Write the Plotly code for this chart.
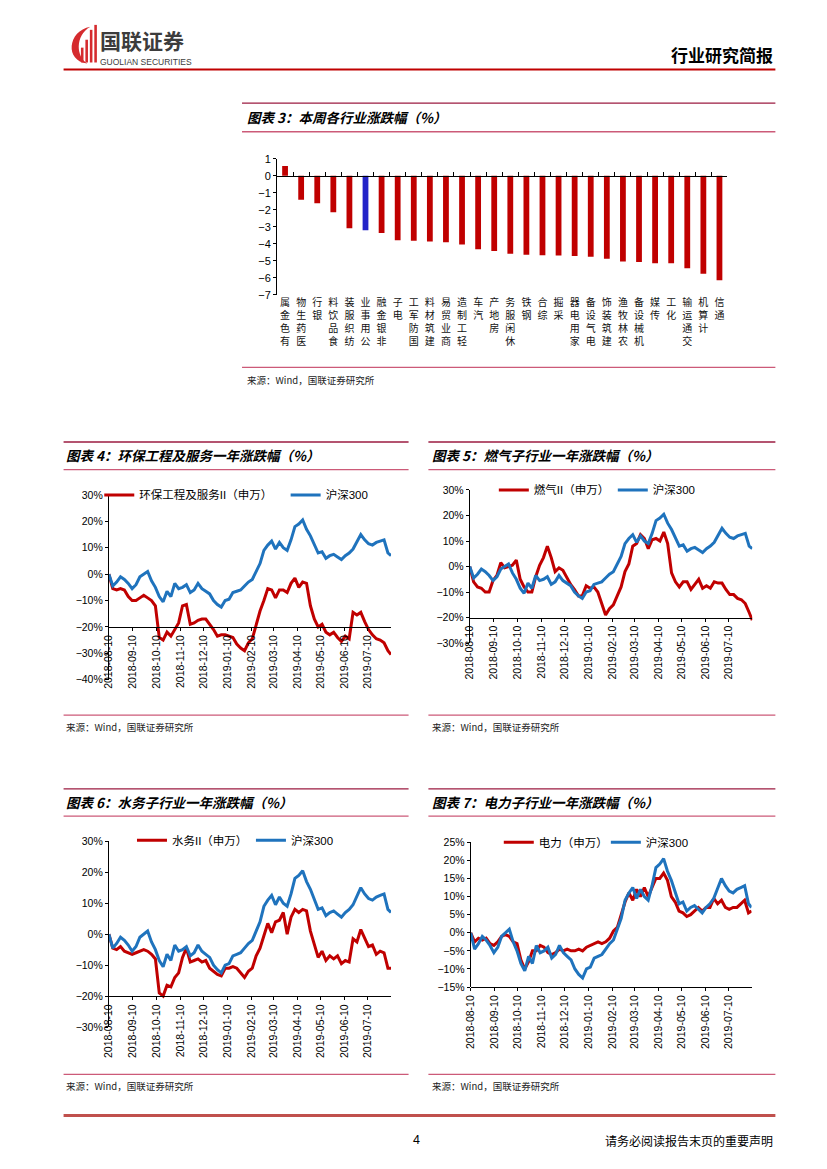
import plotly.graph_objects as go

# The page body has an 8px margin, so the figure is drawn 8px smaller on each side
# and every reference-page pixel is mapped through X()/Y() with that offset.
PAGE_W, PAGE_H = 827, 1169
OFF = 8
W, H = PAGE_W - 2 * OFF, PAGE_H - 2 * OFF


def X(px):
    return (px - OFF) / W


def Y(py):
    return 1 - (py - OFF) / H


# ---------------- data: 图表3 ----------------
industries = ["有色金属", "医药生物", "银行", "食品饮料", "纺织服装", "公用事业", "非银金融",
              "电子", "国防军工", "建筑材料", "商业贸易", "轻工制造", "汽车", "房地产",
              "休闲服务", "钢铁", "综合", "采掘", "家用电器", "电气设备", "建筑装饰",
              "农林牧渔", "机械设备", "传媒", "化工", "交通运输", "计算机", "通信"]
weekly_change = [0.58, -1.41, -1.62, -2.14, -3.09, -3.20, -3.37, -3.80, -3.82, -3.86, -3.91,
                 -4.05, -4.32, -4.43, -4.59, -4.65, -4.67, -4.69, -4.72, -4.76, -4.88, -5.05,
                 -5.07, -5.15, -5.15, -5.44, -5.77, -6.15]
highlight_industry = "公用事业"
bar_yticks = [1, 0, -1, -2, -3, -4, -5, -6, -7]

# ---------------- data: 图表4-7 ----------------
dates = ["2018-08-10", "2018-08-15", "2018-08-20", "2018-08-25", "2018-08-30", "2018-09-04",
         "2018-09-09", "2018-09-14", "2018-09-19", "2018-09-24", "2018-09-29", "2018-10-04",
         "2018-10-09", "2018-10-14", "2018-10-19", "2018-10-24", "2018-10-29", "2018-11-03",
         "2018-11-08", "2018-11-13", "2018-11-18", "2018-11-23", "2018-11-28", "2018-12-03",
         "2018-12-08", "2018-12-13", "2018-12-18", "2018-12-23", "2018-12-28", "2019-01-02",
         "2019-01-07", "2019-01-12", "2019-01-17", "2019-01-22", "2019-01-27", "2019-02-01",
         "2019-02-06", "2019-02-11", "2019-02-16", "2019-02-21", "2019-02-26", "2019-03-03",
         "2019-03-08", "2019-03-13", "2019-03-18", "2019-03-23", "2019-03-28", "2019-04-02",
         "2019-04-07", "2019-04-12", "2019-04-17", "2019-04-22", "2019-04-27", "2019-05-02",
         "2019-05-07", "2019-05-12", "2019-05-17", "2019-05-22", "2019-05-27", "2019-06-01",
         "2019-06-06", "2019-06-11", "2019-06-16", "2019-06-21", "2019-06-26", "2019-07-01",
         "2019-07-06", "2019-07-11", "2019-07-16", "2019-07-21", "2019-07-26", "2019-07-31",
         "2019-08-05", "2019-08-09"]

hs300 = [0, -4.5, -3, -1, -2, -3.5, -5.5, -4, -1, 0, 1, -2.5, -5, -8.5, -10.5, -6.5, -8.5,
         -3.5, -5.5, -5, -4, -7, -6, -3.5, -5.5, -6.5, -7.5, -10, -11.5, -12.5, -10, -9.5, -7,
         -6.5, -6, -4.5, -3, -2, 1, 4, 9, 11, 12.5, 9.5, 12, 10, 9, 13, 18, 19, 20.5, 17, 14.5,
         11, 8, 8.5, 6, 7, 7.5, 6.5, 5.5, 7, 8, 9.5, 12, 15, 13, 11.5, 11, 12, 12.5, 13, 8, 7]

env_service = [0, -5.5, -6, -5.5, -6, -8.5, -10, -10, -9, -8, -9, -10, -12, -24, -25, -22,
               -23.5, -21, -18.5, -12, -11.5, -19, -18.5, -17.5, -17, -17, -19, -21, -23.5,
               -23, -23, -23.5, -24, -26.5, -28, -29, -26, -24.5, -19, -14, -10, -5.5, -6, -9,
               -6, -6, -7, -3.5, -1.5, -5, -3, -3.5, -12, -17, -20, -19, -22, -23, -22, -24,
               -25.5, -23.5, -24.5, -14.5, -15.5, -14.5, -18, -21, -23, -24.5, -25, -26, -29,
               -30.5]

gas = [0, -6, -8, -8.5, -10, -10, -5.5, -3.5, 1.5, -0.5, 0, 0.5, 2.5, -5, -8, -10, -10, -4,
       0.5, 3.5, 8, 3.5, -2, -0.5, -1.5, -4.5, -7, -9, -11.5, -11.5, -7.5, -8.5, -8, -10, -15,
       -19, -16.5, -15, -11.5, -8, -2, 1, 8, 9, 12.5, 11, 7, 10.5, 11, 10, 13.5, 9, -2.5, -6,
       -8, -6, -6, -9, -7, -5, -8.5, -7.5, -8.5, -6, -6.5, -6.5, -9, -11, -11, -12.5, -13,
       -14.5, -18, -21]

water = [0, -4.5, -5, -4, -5.5, -6, -6.5, -6, -5.5, -5, -5.5, -6.5, -8, -19, -20, -16.5, -17,
         -14, -12.5, -7.5, -4.5, -9, -8.5, -8, -9, -8.5, -11, -12, -13, -13.5, -11, -11, -10.5,
         -11, -12.5, -14, -12, -11, -7, -4.5, -0.5, 3.5, 0.5, 4, 4.5, 7, 0, 5.5, 8, 7, 8, 7.5,
         1, -3, -7.5, -5.5, -8.5, -7, -8, -7, -9.5, -8.5, -9, -1.5, -2.5, 1.5, -1, -4, -3.5,
         -6.5, -5.5, -6, -11, -11]

power = [0, -2.5, -1.5, -2, -1.5, -3, -3.5, -2.5, -1, -0.5, -1, -2.5, -3, -7.5, -10, -8, -5,
         -5, -3.5, -4, -5.5, -6, -5.5, -4.5, -5, -4.5, -5, -5, -4.5, -5, -4, -3.5, -3, -2.5, -3,
         -2.5, -1.5, 0.5, 1.5, 5, 8.5, 11, 9, 12, 10, 12.5, 10, 12.5, 15, 15, 16.5, 14.5, 10,
         8.5, 6, 5.5, 4.5, 5, 6, 7, 6, 7, 7, 9.5, 8, 9, 7, 6.5, 7, 7, 8, 9, 5.5, 6]

month_ticks = ["2018-08-10", "2018-09-10", "2018-10-10", "2018-11-10", "2018-12-10",
               "2019-01-10", "2019-02-10", "2019-03-10", "2019-04-10", "2019-05-10",
               "2019-06-10", "2019-07-10"]

# ---------------- style ----------------
RED = "#C00000"
BLUE = "#1F73BD"
BAR_BLUE = "#2424C8"
CJK = "Noto Sans CJK SC"
LAT = "Liberation Sans, Noto Sans CJK SC"
DARK_LINE = "#9B1B40"
PINK_LINE = "#CC5A78"

fig = go.Figure()
layout = dict(width=W, height=H, margin=dict(l=0, r=0, t=0, b=0),
              paper_bgcolor="white", plot_bgcolor="rgba(0,0,0,0)", hovermode=False,
              shapes=[], annotations=[])

# ---------------- 图表3 bar chart ----------------
bar_colors = [BAR_BLUE if n == highlight_industry else RED for n in industries]
fig.add_trace(go.Bar(x=industries, y=weekly_change, marker=dict(color=bar_colors, line=dict(width=0)),
                     width=0.36, xaxis="x", yaxis="y", showlegend=False))
fig.add_trace(go.Scatter(x=[], y=[], xaxis="x2", yaxis="y", showlegend=False))

bx0, bx1 = 272.3, 726.7
by0, by1 = 154.3, 291.7
ymin, ymax = min(bar_yticks), max(bar_yticks)
zero_px = by0 + (ymax - 0) / (ymax - ymin) * (by1 - by0)
stacked = ["<br>".join(reversed(n)) for n in industries]
layout["xaxis"] = dict(domain=[X(bx0), X(bx1)], anchor="y", type="category",
                       range=[-0.5, len(industries) - 0.5], tickvals=industries, ticktext=stacked,
                       tickangle=0, showline=False, ticks="", showgrid=False, zeroline=False,
                       tickfont=dict(family=CJK, size=10, color="#111"))
layout["xaxis2"] = dict(overlaying="x", anchor="free", position=Y(zero_px), type="linear",
                        range=[-0.5, len(industries) - 0.5], tick0=0.5, dtick=1,
                        ticks="inside", ticklen=4, tickcolor="black", showline=True,
                        linecolor="black", linewidth=1.2, showticklabels=False,
                        showgrid=False, zeroline=False)
layout["yaxis"] = dict(domain=[Y(by1), Y(by0)], anchor="x", range=[ymin, ymax],
                       tickvals=bar_yticks, showline=True, linecolor="black", linewidth=1,
                       ticks="outside", ticklen=3, tickcolor="black", showgrid=False,
                       zeroline=False, tickfont=dict(family=LAT, size=11, color="black"))

# ---------------- 图表4-7 line charts ----------------
charts = [
    dict(ax=3, name="环保工程及服务II（申万）", vals=env_service, xpx=(102.7, 387.3),
         ypx=(494, 680.7), yr=(-40, 30), dt=10, cross=-20, leg_red=(93, 494), leg_blue=(281, 494)),
    dict(ax=4, name="燃气II（申万）", vals=gas, xpx=(466.7, 751.7),
         ypx=(489, 643.7), yr=(-30, 30), dt=10, cross=-20, leg_red=(491, 489), leg_blue=(611, 489)),
    dict(ax=5, name="水务II（申万）", vals=water, xpx=(102.7, 387.3),
         ypx=(844, 1031.7), yr=(-30, 30), dt=10, cross=-20, leg_red=(126, 843), leg_blue=(246, 843)),
    dict(ax=6, name="电力（申万）", vals=power, xpx=(467.7, 751),
         ypx=(845, 991.3), yr=(-15, 25), dt=5, cross=-15, leg_red=(496, 845), leg_blue=(604, 845)),
]

leg_idx = 1
for c in charts:
    ax = c["ax"]
    (x0, x1), (y0, y1) = c["xpx"], c["ypx"]
    lo, hi = c["yr"]
    cross_px = y0 + (hi - c["cross"]) / (hi - lo) * (y1 - y0)
    ids = []
    for _ in range(2):
        ids.append("legend" if leg_idx == 1 else f"legend{leg_idx}")
        leg_idx += 1
    fig.add_trace(go.Scatter(x=dates, y=c["vals"], mode="lines", name=c["name"],
                             line=dict(color=RED, width=3), xaxis=f"x{ax}", yaxis=f"y{ax}",
                             legend=ids[0]))
    fig.add_trace(go.Scatter(x=dates, y=hs300, mode="lines", name="沪深300",
                             line=dict(color=BLUE, width=3), xaxis=f"x{ax}", yaxis=f"y{ax}",
                             legend=ids[1]))
    layout[f"xaxis{ax}"] = dict(type="date", domain=[X(x0), X(x1)],
                                range=[dates[0], dates[-1]], anchor="free", position=Y(cross_px),
                                tickvals=month_ticks, tickformat="%Y-%m-%d", tickangle=-90,
                                ticks="outside", ticklen=3, tickcolor="black", showline=True,
                                linecolor="black", linewidth=1, showgrid=False, zeroline=False,
                                tickfont=dict(family=LAT, size=10.5, color="black"))
    layout[f"yaxis{ax}"] = dict(domain=[Y(y1), Y(y0)], anchor=f"x{ax}", range=[lo, hi],
                                tick0=0, dtick=c["dt"], ticksuffix="%", showline=True,
                                linecolor="black", linewidth=1, ticks="outside", ticklen=3,
                                tickcolor="black", showgrid=False, zeroline=False,
                                tickfont=dict(family=LAT, size=10.5, color="black"))
    for lid, (lx, ly) in zip(ids, [c["leg_red"], c["leg_blue"]]):
        layout[lid] = dict(x=X(lx), y=Y(ly), xanchor="left", yanchor="middle",
                           orientation="h", bgcolor="rgba(0,0,0,0)", borderwidth=0,
                           itemwidth=30, font=dict(family=LAT, size=11.5, color="black"))


# ---------------- page decorations ----------------
def hline(x0, x1, y, color, width):
    layout["shapes"].append(dict(type="line", xref="paper", yref="paper", x0=X(x0), x1=X(x1),
                                 y0=Y(y), y1=Y(y), line=dict(color=color, width=width)))


def text(x, y, s, size, color="black", xanchor="left", family=CJK):
    layout["annotations"].append(dict(xref="paper", yref="paper", x=X(x), y=Y(y), text=s,
                                      showarrow=False, xanchor=xanchor, yanchor="middle",
                                      borderpad=0,
                                      font=dict(family=family, size=size, color=color)))


def block(x0, x1, ytop, ytitle, yline2, ybottom, ysource, title, tx):
    hline(x0, x1, ytop, DARK_LINE, 1.3)
    hline(x0, x1, yline2, PINK_LINE, 1.3)
    hline(x0, x1, ybottom, PINK_LINE, 1.3)
    text(tx, ytitle, f"<b><i>{title}</i></b>", 13.5)
    text(tx, ysource, "来源：Wind，国联证券研究所", 9.5, "#222")


block(237, 775, 98, 112, 127, 365, 378, "图表 3：本周各行业涨跌幅（%）", 241)
block(57, 405, 440.5, 454, 468.5, 716.5, 728, "图表 4：环保工程及服务一年涨跌幅（%）", 58)
block(425, 775, 440.5, 454, 468.5, 716.5, 728, "图表 5：燃气子行业一年涨跌幅（%）", 428)
block(57, 405, 791, 804, 818.5, 1079.5, 1091, "图表 6：水务子行业一年涨跌幅（%）", 58)
block(425, 775, 791, 804, 818.5, 1079.5, 1091, "图表 7：电力子行业一年涨跌幅（%）", 428)


# header
def P(px, py):
    return f"{X(px):.5f},{Y(py):.5f}"


logo_red = "#D52B2E"
layout["shapes"].append(dict(type="path", xref="paper", yref="paper",
                             path=f"M{P(84,21)} C{P(61,25)} {P(58,56)} {P(81,58)} "
                                  f"C{P(70,52)} {P(68,30)} {P(84,21)} Z",
                             fillcolor=logo_red, line=dict(width=0)))
for bx, btop in [(74.5, 42), (79, 34), (83.5, 24), (88, 19)]:
    layout["shapes"].append(dict(type="rect", xref="paper", yref="paper",
                                 x0=X(bx), x1=X(bx + 2.6), y0=Y(57), y1=Y(btop),
                                 fillcolor=logo_red, line=dict(width=0)))
text(93, 34.5, "<b>国联证券</b>", 21, "#3C3C3C")
text(93, 56.5, "GUOLIAN SECURITIES", 8.5, "#3C3C3C", family="Liberation Sans")
text(774, 49, "<b>行业研究简报</b>", 17, "black", xanchor="right")
hline(57, 775, 64, RED, 2)

# footer
hline(57, 775, 1121, "#C0504D", 3)
text(413, 1146, "4", 12.5, "black", xanchor="center", family="Liberation Sans")
text(774, 1146, "请务必阅读报告末页的重要声明", 12, "black", xanchor="right")

fig.update_layout(**layout)
fig.write_html("out.html", config={"displayModeBar": False})
